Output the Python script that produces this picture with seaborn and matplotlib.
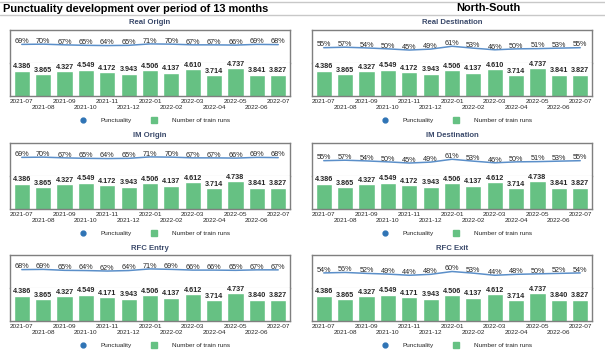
import matplotlib
matplotlib.use("Agg")
import matplotlib.pyplot as plt
import seaborn as sns
import pandas as pd
from matplotlib.lines import Line2D

months = ['2021-07', '2021-08', '2021-09', '2021-10', '2021-11', '2021-12', '2022-01',
          '2022-02', '2022-03', '2022-04', '2022-05', '2022-06', '2022-07']

panel_titles = ['Real Origin', 'Real Destination', 'IM Origin', 'IM Destination',
                'RFC Entry', 'RFC Exit']

punct_real_origin = [69, 70, 67, 65, 64, 65, 71, 70, 67, 67, 66, 69, 68]
punct_real_dest = [55, 57, 54, 50, 45, 49, 61, 53, 46, 50, 51, 53, 55]
punct_im_origin = [69, 70, 67, 65, 64, 65, 71, 70, 67, 67, 66, 69, 68]
punct_im_dest = [55, 57, 54, 50, 45, 49, 61, 53, 46, 50, 51, 53, 55]
punct_rfc_entry = [68, 69, 65, 64, 62, 64, 71, 69, 66, 66, 65, 67, 67]
punct_rfc_exit = [54, 56, 52, 49, 44, 48, 60, 53, 44, 48, 50, 52, 54]

runs_real = [4386, 3865, 4327, 4549, 4172, 3943, 4506, 4137, 4610, 3714, 4737, 3841, 3827]
runs_im = [4386, 3865, 4327, 4549, 4172, 3943, 4506, 4137, 4612, 3714, 4738, 3841, 3827]
runs_rfc = [4386, 3865, 4327, 4549, 4171, 3943, 4506, 4137, 4612, 3714, 4737, 3840, 3827]

punct_all = [punct_real_origin, punct_real_dest, punct_im_origin, punct_im_dest,
             punct_rfc_entry, punct_rfc_exit]
runs_all = [runs_real, runs_real, runs_im, runs_im, runs_rfc, runs_rfc]

sns.set_theme(style="white")
plt.rcParams['font.family'] = ['Liberation Sans', 'DejaVu Sans']

BAR_GREEN = '#66c183'
LINE_BLUE = '#5b8fc9'
DOT_BLUE = '#2f74b5'
BOX_GREY = '#7f7f7f'
TXT = '#262626'

W, H = 605, 353
fig = plt.figure(figsize=(W / 100, H / 100), dpi=100)

# header lines and titles
fig.add_artist(Line2D([0, 1], [1 - 1.5 / H, 1 - 1.5 / H], color='#c8c8c8', lw=1))
fig.add_artist(Line2D([0, 1], [1 - 15 / H, 1 - 15 / H], color='#c8c8c8', lw=1))
fig.text(3 / W, 1 - 9 / H, 'Punctuality development over period of 13 months',
         fontsize=7.9, fontweight='bold', color='black', va='center', ha='left')
fig.text(488 / W, 1 - 8 / H, 'North-South', fontsize=7.9, fontweight='bold',
         color='black', va='center', ha='center')

tops = [30, 143, 255]
lefts = [10, 312]
box_w = 280
half_h = 33

x = list(range(len(months)))
# alternate the month labels over two rows
tick_labels = [m if i % 2 == 0 else '\n' + m for i, m in enumerate(months)]

for k in range(6):
    row, col = divmod(k, 2)
    top = tops[row]
    left = lefts[col]
    ax_line = fig.add_axes([left / W, 1 - (top + half_h) / H, box_w / W, half_h / H])
    ax_bar = fig.add_axes([left / W, 1 - (top + 2 * half_h) / H, box_w / W, half_h / H])

    df = pd.DataFrame({'x': x, 'month': months,
                       'punct': [p / 100 for p in punct_all[k]],
                       'runs': runs_all[k]})

    # punctuality line
    sns.lineplot(data=df, x='x', y='punct', ax=ax_line, color=LINE_BLUE, lw=1.1)
    for xi, p in zip(df['x'], punct_all[k]):
        ax_line.text(xi, p / 100 - 0.03, f'{p}%', ha='center', va='bottom',
                     fontsize=5.2, color=TXT)
    ax_line.set_ylim(-0.1, 1.3)
    ax_line.set_xlim(-0.55, 12.55)
    ax_line.set_xticks([])
    ax_line.set_yticks([])
    ax_line.set_xlabel('')
    ax_line.set_ylabel('')
    for s in ['top', 'left', 'right']:
        ax_line.spines[s].set_color(BOX_GREY)
        ax_line.spines[s].set_linewidth(1.0)
    ax_line.spines['bottom'].set_color('#c0c0c0')
    ax_line.spines['bottom'].set_linewidth(0.8)

    # train runs bars
    sns.barplot(data=df, x='x', y='runs', ax=ax_bar, color=BAR_GREEN,
                width=0.75, saturation=1, native_scale=True)
    for xi, r in zip(df['x'], runs_all[k]):
        lbl = f'{r:,}'.replace(',', '.')
        ax_bar.text(xi, r + 60, lbl, ha='center', va='bottom', fontsize=5.2,
                    fontweight='bold', color=TXT)
    ax_bar.set_ylim(650, 5550)
    ax_bar.set_xlim(-0.55, 12.55)
    ax_bar.set_yticks([])
    ax_bar.set_xticks(x)
    ax_bar.set_xticklabels(tick_labels, fontsize=4.6, color=TXT, linespacing=1.25)
    ax_bar.tick_params(axis='x', length=0, pad=2.5)
    ax_bar.set_xlabel('')
    ax_bar.set_ylabel('')
    ax_bar.spines['top'].set_visible(False)
    for s in ['bottom', 'left', 'right']:
        ax_bar.spines[s].set_color(BOX_GREY)
        ax_bar.spines[s].set_linewidth(1.0)

    # panel title
    fig.text((left + box_w / 2) / W, 1 - (top - 7) / H, panel_titles[k],
             ha='center', va='center', fontsize=5.6, color='#3b4a6b',
             fontweight='semibold')

    # legend
    handles = [Line2D([], [], marker='o', ls='', color=DOT_BLUE, markersize=3.5),
               Line2D([], [], marker='s', ls='', color=BAR_GREEN, markersize=4.5)]
    leg = fig.legend(handles, ['Punctuality', 'Number of train runs'],
                     loc='center', bbox_to_anchor=((left + 145) / W, 1 - (top + 2 * half_h + 24) / H),
                     ncol=2, frameon=False, fontsize=4.6, handletextpad=2.2,
                     columnspacing=3.0, handlelength=1)
    for t in leg.get_texts():
        t.set_color(TXT)

fig.savefig('out.png', dpi=100)
